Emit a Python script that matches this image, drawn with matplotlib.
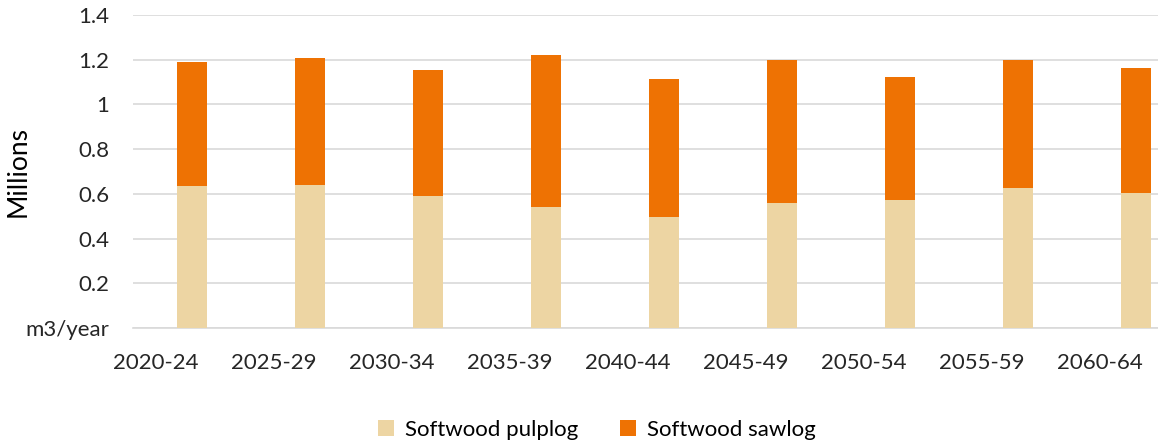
"""
Softwood harvest forecast, stacked by assortment
"""
import matplotlib.pyplot as plt
import numpy as np

periods = ["2020-24", "2025-29", "2030-34", "2035-39", "2040-44",
           "2045-49", "2050-54", "2055-59", "2060-64"]
pulplog = [0.634, 0.638, 0.591, 0.540, 0.497, 0.559, 0.571, 0.626, 0.603]
total = [1.189, 1.207, 1.152, 1.219, 1.115, 1.201, 1.121, 1.201, 1.164]
sawlog = [t - p for t, p in zip(total, pulplog)]

y_ticks = [0, 0.2, 0.4, 0.6, 0.8, 1.0, 1.2, 1.4]
y_labels = ["m3/year", "0.2", "0.4", "0.6", "0.8", "1", "1.2", "1.4"]

COLOR_PULP = "#EDD5A3"
COLOR_SAW = "#EE7203"
GRID = "#D9D9D9"

plt.rcParams["font.family"] = ["Lato", "DejaVu Sans"]

fig = plt.figure(figsize=(11.58, 4.47), dpi=100)
ax = fig.add_axes([0.1149, 0.2662, 0.8851, 0.7002])

x = np.arange(len(periods))
ax.bar(x, pulplog, width=0.26, color=COLOR_PULP, label="Softwood pulplog", zorder=3)
ax.bar(x, sawlog, width=0.26, bottom=pulplog, color=COLOR_SAW,
       label="Softwood sawlog", zorder=3)

ax.set_xlim(-0.5, 8.186)
ax.set_ylim(0, 1.4)
ax.set_yticks(y_ticks)
ax.set_yticklabels(y_labels)
ax.set_xticks(x - 0.31)
ax.set_xticklabels(periods)
ax.tick_params(axis="both", length=0, labelsize=16, colors="#262626")
ax.tick_params(axis="y", pad=17)
ax.tick_params(axis="x", pad=18)

ax.grid(axis="y", color=GRID, linewidth=1.2, zorder=0)
for s in ["top", "right", "left"]:
	ax.spines[s].set_visible(False)
ax.spines["bottom"].set_color(GRID)
ax.spines["bottom"].set_linewidth(1.2)

ax.set_ylabel("Millions", fontsize=19, color="#000000")
ax.yaxis.set_label_coords(-0.1, 0.5)

fig.legend(loc="center", bbox_to_anchor=(0.5155, 0.038), ncol=2, frameon=False,
           fontsize=16, handlelength=0.7, handleheight=0.7, columnspacing=1.9,
           handletextpad=0.5)

fig.savefig("out.png", dpi=100)
